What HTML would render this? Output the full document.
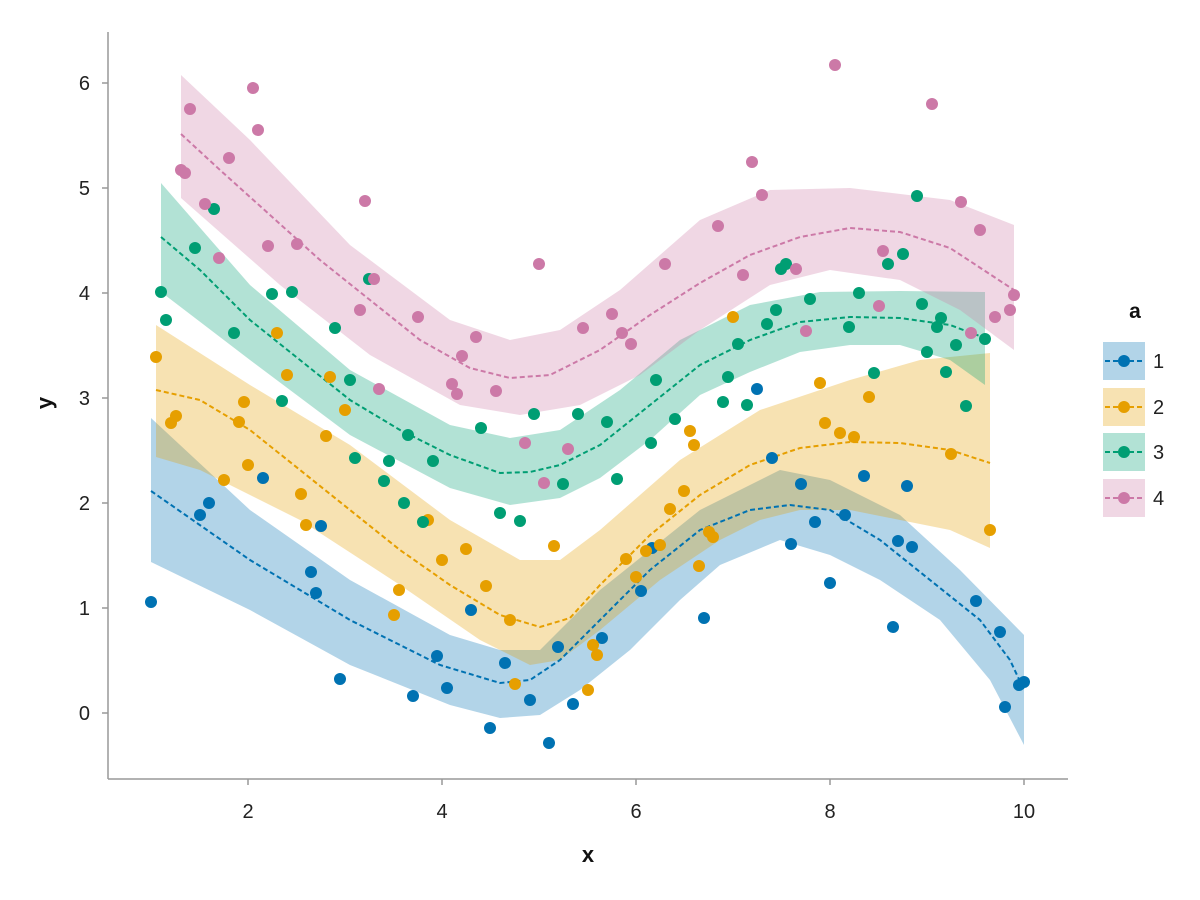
<!DOCTYPE html>
<html><head><meta charset="utf-8"><style>
html,body{margin:0;padding:0;background:#fff;}
svg{display:block;font-family:"Liberation Sans","DejaVu Sans",sans-serif;}
</style></head><body>
<svg width="1200" height="900" viewBox="0 0 1200 900" xmlns="http://www.w3.org/2000/svg">
<rect width="1200" height="900" fill="#fff"/>
<!-- bands -->
<path d="M151,418 L250,510 L350,580 L450,635 L500,650 L540,650 L600,590 L700,510 L780,470 L830,480 L900,515 L960,570 L1024,635 L1024,745 L990,680 L940,620 L880,580 L830,555 L780,540 L720,565 L680,600 L630,650 L580,690 L540,715 L500,718 L450,705 L350,665 L250,610 L151,562 Z" fill="#0072b2" fill-opacity="0.3"/>
<path d="M156,325 L250,385 L350,445 L450,520 L520,560 L560,560 L600,530 L680,460 L760,410 L850,380 L920,360 L990,353 L990,548 L950,530 L900,520 L850,510 L800,510 L760,520 L720,540 L660,580 L600,630 L560,660 L530,665 L480,640 L400,585 L300,520 L200,470 L156,457 Z" fill="#e69f00" fill-opacity="0.3"/>
<path d="M161,183 L250,285 L350,370 L450,425 L510,438 L560,430 L620,390 L680,340 L750,305 L820,292 L900,291 L985,292 L985,385 L950,360 L900,345 L850,345 L800,352 L750,372 L700,395 L650,440 L600,478 L560,498 L510,505 L450,488 L350,435 L250,360 L161,292 Z" fill="#009e73" fill-opacity="0.3"/>
<path d="M181,75 L250,140 L350,245 L450,320 L510,340 L560,330 L620,290 L700,220 L770,190 L850,188 L950,200 L1014,225 L1014,350 L960,310 L900,280 L830,270 L770,285 L700,330 L640,375 L580,405 L520,415 L460,405 L370,355 L280,285 L181,198 Z" fill="#cc79a7" fill-opacity="0.3"/>
<!-- lines -->
<g fill="none" stroke-width="2" stroke-dasharray="5,3">
<polyline stroke="#0072b2" points="151,491 250,560 350,620 440,665 500,683 530,680 560,660 600,620 650,570 700,530 750,510 790,505 830,510 880,540 930,580 980,620 1010,660 1024,690"/>
<polyline stroke="#e69f00" points="156,390 200,400 250,430 300,470 350,510 400,550 450,585 500,615 540,627 570,618 600,585 650,535 700,495 750,465 800,448 850,442 900,443 950,450 990,463"/>
<polyline stroke="#009e73" points="161,237 200,270 250,320 300,360 350,400 400,430 450,455 500,473 530,472 560,465 600,445 650,405 700,365 750,340 800,322 850,317 900,318 950,325 985,338"/>
<polyline stroke="#cc79a7" points="181,134 220,170 270,215 320,260 370,300 420,340 470,368 510,378 550,375 600,350 650,315 700,283 750,255 800,237 850,228 900,232 950,248 1014,290"/>
</g>
<!-- points -->
<g fill="#0072b2" id="b"></g>
<g fill="#e69f00" id="o"></g>
<g fill="#009e73" id="g"></g>
<g fill="#cc79a7" id="p"></g>
<!-- axes -->
<g stroke="#999" stroke-width="1.5" fill="none">
<line x1="108" y1="32" x2="108" y2="779"/>
<line x1="108" y1="779" x2="1068" y2="779"/>
<line x1="248" y1="779" x2="248" y2="785"/><line x1="442" y1="779" x2="442" y2="785"/><line x1="636" y1="779" x2="636" y2="785"/><line x1="830" y1="779" x2="830" y2="785"/><line x1="1024" y1="779" x2="1024" y2="785"/>
<line x1="102" y1="713" x2="108" y2="713"/><line x1="102" y1="608" x2="108" y2="608"/><line x1="102" y1="503" x2="108" y2="503"/><line x1="102" y1="398" x2="108" y2="398"/><line x1="102" y1="293" x2="108" y2="293"/><line x1="102" y1="188" x2="108" y2="188"/><line x1="102" y1="83" x2="108" y2="83"/>
</g>
<g font-size="20" fill="#222" text-anchor="middle">
<text x="248" y="818">2</text><text x="442" y="818">4</text><text x="636" y="818">6</text><text x="830" y="818">8</text><text x="1024" y="818">10</text>
</g>
<g font-size="20" fill="#222" text-anchor="end">
<text x="90" y="720">0</text><text x="90" y="615">1</text><text x="90" y="510">2</text><text x="90" y="405">3</text><text x="90" y="300">4</text><text x="90" y="195">5</text><text x="90" y="90">6</text>
</g>
<text x="588" y="862" font-size="22" font-weight="bold" text-anchor="middle" fill="#111">x</text>
<text transform="translate(52,403) rotate(-90)" font-size="22" font-weight="bold" text-anchor="middle" fill="#111">y</text>
<!-- legend -->
<text x="1135" y="318" font-size="21" font-weight="bold" text-anchor="middle" fill="#111">a</text>
<g>
<rect x="1103" y="342" width="42" height="38" fill="#0072b2" fill-opacity="0.3"/>
<line x1="1105" y1="361" x2="1143" y2="361" stroke="#0072b2" stroke-width="2" stroke-dasharray="5,3"/>
<circle cx="1124" cy="361" r="6" fill="#0072b2"/>
<text x="1153" y="368" font-size="20" fill="#222">1</text>
<rect x="1103" y="388" width="42" height="38" fill="#e69f00" fill-opacity="0.3"/>
<line x1="1105" y1="407" x2="1143" y2="407" stroke="#e69f00" stroke-width="2" stroke-dasharray="5,3"/>
<circle cx="1124" cy="407" r="6" fill="#e69f00"/>
<text x="1153" y="414" font-size="20" fill="#222">2</text>
<rect x="1103" y="433" width="42" height="38" fill="#009e73" fill-opacity="0.3"/>
<line x1="1105" y1="452" x2="1143" y2="452" stroke="#009e73" stroke-width="2" stroke-dasharray="5,3"/>
<circle cx="1124" cy="452" r="6" fill="#009e73"/>
<text x="1153" y="459" font-size="20" fill="#222">3</text>
<rect x="1103" y="479" width="42" height="38" fill="#cc79a7" fill-opacity="0.3"/>
<line x1="1105" y1="498" x2="1143" y2="498" stroke="#cc79a7" stroke-width="2" stroke-dasharray="5,3"/>
<circle cx="1124" cy="498" r="6" fill="#cc79a7"/>
<text x="1153" y="505" font-size="20" fill="#222">4</text>
</g>
<g fill="#0072b2">
<circle cx="151" cy="602" r="6"/><circle cx="200" cy="515" r="6"/><circle cx="209" cy="503" r="6"/><circle cx="263" cy="478" r="6"/><circle cx="311" cy="572" r="6"/><circle cx="316" cy="593" r="6"/><circle cx="321" cy="526" r="6"/><circle cx="340" cy="679" r="6"/><circle cx="413" cy="696" r="6"/><circle cx="437" cy="656" r="6"/><circle cx="447" cy="688" r="6"/><circle cx="471" cy="610" r="6"/><circle cx="490" cy="728" r="6"/><circle cx="505" cy="663" r="6"/><circle cx="530" cy="700" r="6"/><circle cx="549" cy="743" r="6"/><circle cx="558" cy="647" r="6"/><circle cx="573" cy="704" r="6"/><circle cx="602" cy="638" r="6"/><circle cx="641" cy="591" r="6"/><circle cx="652" cy="548" r="6"/><circle cx="704" cy="618" r="6"/><circle cx="757" cy="389" r="6"/><circle cx="772" cy="458" r="6"/><circle cx="791" cy="544" r="6"/><circle cx="801" cy="484" r="6"/><circle cx="815" cy="522" r="6"/><circle cx="830" cy="583" r="6"/><circle cx="845" cy="515" r="6"/><circle cx="864" cy="476" r="6"/><circle cx="893" cy="627" r="6"/><circle cx="898" cy="541" r="6"/><circle cx="907" cy="486" r="6"/><circle cx="912" cy="547" r="6"/><circle cx="976" cy="601" r="6"/><circle cx="1000" cy="632" r="6"/><circle cx="1005" cy="707" r="6"/><circle cx="1019" cy="685" r="6"/><circle cx="1024" cy="682" r="6"/>
</g>
<g fill="#e69f00">
<circle cx="156" cy="357" r="6"/><circle cx="171" cy="423" r="6"/><circle cx="176" cy="416" r="6"/><circle cx="224" cy="480" r="6"/><circle cx="239" cy="422" r="6"/><circle cx="244" cy="402" r="6"/><circle cx="248" cy="465" r="6"/><circle cx="277" cy="333" r="6"/><circle cx="287" cy="375" r="6"/><circle cx="301" cy="494" r="6"/><circle cx="306" cy="525" r="6"/><circle cx="326" cy="436" r="6"/><circle cx="330" cy="377" r="6"/><circle cx="345" cy="410" r="6"/><circle cx="394" cy="615" r="6"/><circle cx="399" cy="590" r="6"/><circle cx="428" cy="520" r="6"/><circle cx="442" cy="560" r="6"/><circle cx="466" cy="549" r="6"/><circle cx="486" cy="586" r="6"/><circle cx="510" cy="620" r="6"/><circle cx="515" cy="684" r="6"/><circle cx="554" cy="546" r="6"/><circle cx="588" cy="690" r="6"/><circle cx="593" cy="645" r="6"/><circle cx="597" cy="655" r="6"/><circle cx="626" cy="559" r="6"/><circle cx="636" cy="577" r="6"/><circle cx="646" cy="551" r="6"/><circle cx="660" cy="545" r="6"/><circle cx="670" cy="509" r="6"/><circle cx="684" cy="491" r="6"/><circle cx="690" cy="431" r="6"/><circle cx="694" cy="445" r="6"/><circle cx="699" cy="566" r="6"/><circle cx="709" cy="532" r="6"/><circle cx="713" cy="537" r="6"/><circle cx="733" cy="317" r="6"/><circle cx="820" cy="383" r="6"/><circle cx="825" cy="423" r="6"/><circle cx="840" cy="433" r="6"/><circle cx="854" cy="437" r="6"/><circle cx="869" cy="397" r="6"/><circle cx="951" cy="454" r="6"/><circle cx="990" cy="530" r="6"/>
</g>
<g fill="#009e73">
<circle cx="161" cy="292" r="6"/><circle cx="166" cy="320" r="6"/><circle cx="195" cy="248" r="6"/><circle cx="214" cy="209" r="6"/><circle cx="234" cy="333" r="6"/><circle cx="272" cy="294" r="6"/><circle cx="282" cy="401" r="6"/><circle cx="292" cy="292" r="6"/><circle cx="335" cy="328" r="6"/><circle cx="350" cy="380" r="6"/><circle cx="355" cy="458" r="6"/><circle cx="369" cy="279" r="6"/><circle cx="384" cy="481" r="6"/><circle cx="389" cy="461" r="6"/><circle cx="404" cy="503" r="6"/><circle cx="408" cy="435" r="6"/><circle cx="423" cy="522" r="6"/><circle cx="433" cy="461" r="6"/><circle cx="481" cy="428" r="6"/><circle cx="500" cy="513" r="6"/><circle cx="520" cy="521" r="6"/><circle cx="534" cy="414" r="6"/><circle cx="563" cy="484" r="6"/><circle cx="578" cy="414" r="6"/><circle cx="607" cy="422" r="6"/><circle cx="617" cy="479" r="6"/><circle cx="651" cy="443" r="6"/><circle cx="656" cy="380" r="6"/><circle cx="675" cy="419" r="6"/><circle cx="723" cy="402" r="6"/><circle cx="728" cy="377" r="6"/><circle cx="738" cy="344" r="6"/><circle cx="747" cy="405" r="6"/><circle cx="767" cy="324" r="6"/><circle cx="776" cy="310" r="6"/><circle cx="781" cy="269" r="6"/><circle cx="786" cy="264" r="6"/><circle cx="810" cy="299" r="6"/><circle cx="849" cy="327" r="6"/><circle cx="859" cy="293" r="6"/><circle cx="874" cy="373" r="6"/><circle cx="888" cy="264" r="6"/><circle cx="903" cy="254" r="6"/><circle cx="917" cy="196" r="6"/><circle cx="922" cy="304" r="6"/><circle cx="927" cy="352" r="6"/><circle cx="937" cy="327" r="6"/><circle cx="941" cy="318" r="6"/><circle cx="946" cy="372" r="6"/><circle cx="956" cy="345" r="6"/><circle cx="966" cy="406" r="6"/><circle cx="985" cy="339" r="6"/>
</g>
<g fill="#cc79a7">
<circle cx="181" cy="170" r="6"/><circle cx="185" cy="173" r="6"/><circle cx="190" cy="109" r="6"/><circle cx="205" cy="204" r="6"/><circle cx="219" cy="258" r="6"/><circle cx="229" cy="158" r="6"/><circle cx="253" cy="88" r="6"/><circle cx="258" cy="130" r="6"/><circle cx="268" cy="246" r="6"/><circle cx="297" cy="244" r="6"/><circle cx="360" cy="310" r="6"/><circle cx="365" cy="201" r="6"/><circle cx="374" cy="279" r="6"/><circle cx="379" cy="389" r="6"/><circle cx="418" cy="317" r="6"/><circle cx="452" cy="384" r="6"/><circle cx="457" cy="394" r="6"/><circle cx="462" cy="356" r="6"/><circle cx="476" cy="337" r="6"/><circle cx="496" cy="391" r="6"/><circle cx="525" cy="443" r="6"/><circle cx="539" cy="264" r="6"/><circle cx="544" cy="483" r="6"/><circle cx="568" cy="449" r="6"/><circle cx="583" cy="328" r="6"/><circle cx="612" cy="314" r="6"/><circle cx="622" cy="333" r="6"/><circle cx="631" cy="344" r="6"/><circle cx="665" cy="264" r="6"/><circle cx="718" cy="226" r="6"/><circle cx="743" cy="275" r="6"/><circle cx="752" cy="162" r="6"/><circle cx="762" cy="195" r="6"/><circle cx="796" cy="269" r="6"/><circle cx="806" cy="331" r="6"/><circle cx="835" cy="65" r="6"/><circle cx="879" cy="306" r="6"/><circle cx="883" cy="251" r="6"/><circle cx="932" cy="104" r="6"/><circle cx="961" cy="202" r="6"/><circle cx="971" cy="333" r="6"/><circle cx="980" cy="230" r="6"/><circle cx="995" cy="317" r="6"/><circle cx="1010" cy="310" r="6"/><circle cx="1014" cy="295" r="6"/>
</g>
</svg>
</body></html>
